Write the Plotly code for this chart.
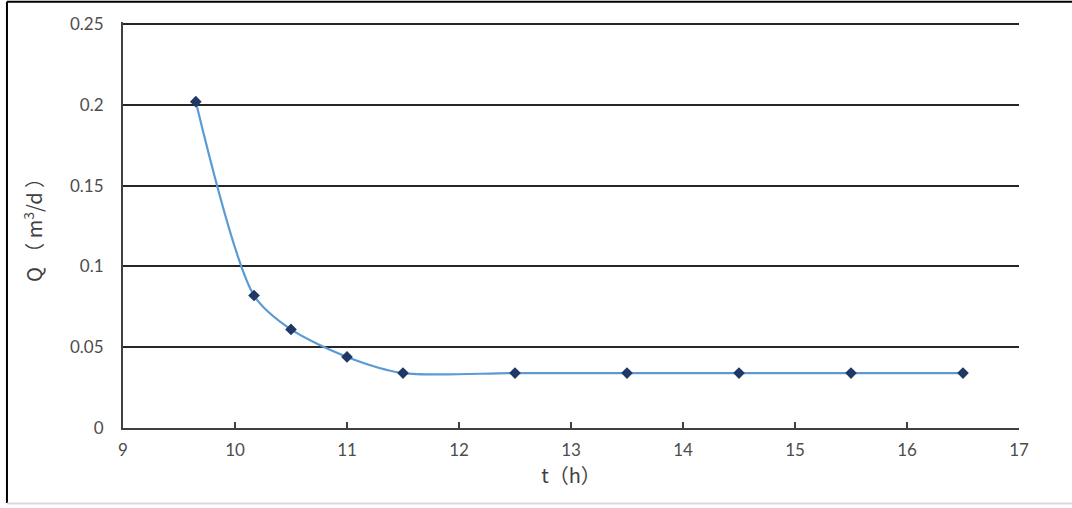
import plotly.graph_objects as go

t_hours = [9.65, 10.17, 10.5, 11.0, 11.5, 12.5, 13.5, 14.5, 15.5, 16.5]
q_values = [0.202, 0.082, 0.061, 0.044, 0.034, 0.034, 0.034, 0.034, 0.034, 0.034]
x_ticks = [9, 10, 11, 12, 13, 14, 15, 16, 17]
y_ticks = [0, 0.05, 0.1, 0.15, 0.2, 0.25]
y_tick_text = ["0", "0.05", "0.1", "0.15", "0.2", "0.25"]

fig = go.Figure()
fig.add_trace(go.Scatter(
    x=t_hours, y=q_values, mode="lines+markers",
    line=dict(color="#5B9BD5", width=2.2, shape="spline", smoothing=0.8),
    marker=dict(symbol="diamond", size=9, color="#1F3864"),
    showlegend=False,
))

tick_font = dict(family="Lato, Noto Sans, sans-serif", size=17, color="#4D4D4D")

fig.update_layout(
    width=1072, height=508,
    margin=dict(l=123, r=53, t=22, b=80),
    paper_bgcolor="white", plot_bgcolor="white",
    font=dict(family="Lato, Noto Sans, sans-serif"),
    xaxis=dict(
        range=[9, 17], tickvals=x_ticks, showgrid=False, zeroline=False,
        showline=True, linecolor="#404040", linewidth=2,
        ticks="inside", ticklen=6, tickwidth=1.5, tickcolor="#404040",
        tickfont=tick_font, ticklabelstandoff=6,
        title=dict(text="t（h）", font=dict(family="Noto Sans CJK SC", size=20, color="#404040"), standoff=2),
    ),
    yaxis=dict(
        range=[0, 0.2513], tickvals=y_ticks, ticktext=y_tick_text,
        showgrid=True, gridcolor="#262626", gridwidth=2, zeroline=False,
        showline=True, linecolor="#404040", linewidth=2, ticks="",
        ticklabelstandoff=14,
        tickfont=tick_font,
        title=dict(text="Q （ m<sup>3</sup>/d ）", font=dict(family="Noto Sans CJK SC", size=20, color="#404040"), standoff=22),
    ),
    shapes=[
        dict(type="line", xref="paper", yref="paper", x0=-0.1295, x1=-0.1295, y0=-0.185, y1=1.05,
             line=dict(color="black", width=2)),
        dict(type="line", xref="paper", yref="paper", x0=-0.1295, x1=1.06, y0=1.05, y1=1.05,
             line=dict(color="black", width=2)),
        dict(type="line", xref="paper", yref="paper", x0=-0.1295, x1=1.06, y0=-0.186, y1=-0.186,
             line=dict(color="#D9D9D9", width=2)),
    ],
)

fig.write_html("out.html", config={"displayModeBar": False},
               post_script="document.body.style.margin='0';document.body.style.overflow='hidden';")
